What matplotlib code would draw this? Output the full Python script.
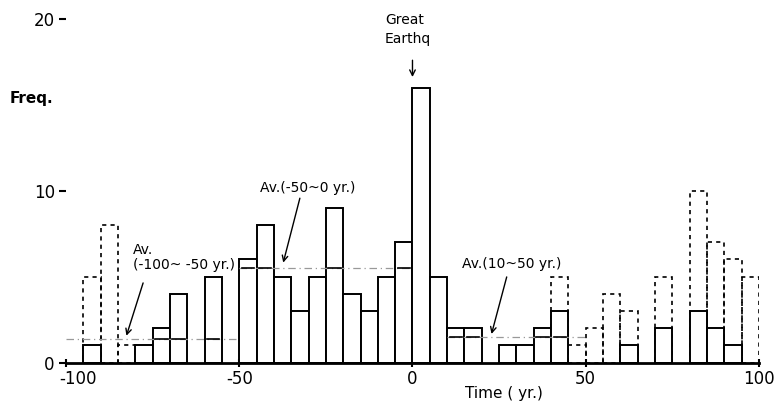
import numpy as np
import matplotlib
matplotlib.use("Agg")
import matplotlib.pyplot as plt
import matplotlib.transforms as mtransforms

plt.rcParams['axes.unicode_minus'] = False
plt.rcParams['font.family'] = 'DejaVu Sans'

# 5-year bins, left edges from -100 to 95
bin_left = np.arange(-100, 100, 5)
width = 5

# solid bars (counted events)
solid = [0, 1, 0, 0, 1, 2, 4, 0, 5, 0,
         6, 8, 5, 3, 5, 9, 4, 3, 5, 7,
         16, 5, 2, 2, 0, 1, 1, 2, 3, 0,
         0, 0, 1, 0, 2, 0, 3, 2, 1, 0]
# dashed bars (incl. less certain events)
dashed = [0, 5, 8, 1, 1, 2, 4, 0, 5, 0,
          6, 8, 5, 3, 5, 9, 4, 3, 5, 7,
          16, 5, 2, 2, 0, 1, 1, 2, 5, 1,
          2, 4, 3, 0, 5, 0, 10, 7, 6, 5]

# averages: (start, end, level)
avg_ranges = [(-100, -50, 1.35), (-50, 0, 5.5), (10, 50, 1.5)]

fig = plt.figure(figsize=(7.79, 4.07), dpi=100)
ax = fig.add_axes([0.0847, 0.109, 0.8896, 0.866])

solid = np.array(solid)
dashed = np.array(dashed)

# dashed outlines first
show = dashed > solid
ax.bar(bin_left[show], dashed[show], width=width, align='edge',
       fill=False, edgecolor='black', linewidth=1.2, linestyle=(0, (2.5, 2.5)), zorder=1)

# solid bars
has = solid > 0
ax.bar(bin_left[has], solid[has], width=width, align='edge',
       facecolor='white', edgecolor='black', linewidth=1.4, zorder=2)

# average lines
for a, b, lev in avg_ranges:
    ax.plot([a, b], [lev, lev], color='#999999', linewidth=0.9,
            linestyle=(0, (6, 3, 1, 3)), zorder=3)
    for left, h in zip(bin_left, solid):
        if a <= left < b and h > lev:
            c = left + width / 2
            ax.plot([c - 1.8, c + 1.8], [lev, lev], color='black', linewidth=1.2, zorder=4)

fs = 10
# annotations
ax.text(-80.7, 6.1, 'Av.\n(-100~ -50 yr.)', ha='left', va='center', fontsize=fs,
        linespacing=1.1)
ax.annotate('', xy=(-82.8, 1.41), xytext=(-77.5, 4.79),
            arrowprops=dict(arrowstyle='->', lw=1.0, color='black'))

ax.text(-44, 10.16, 'Av.(-50~0 yr.)', ha='left', va='center', fontsize=fs)
ax.annotate('', xy=(-37.5, 5.66), xytext=(-32.3, 9.72),
            arrowprops=dict(arrowstyle='->', lw=1.0, color='black'))

ax.text(14.2, 5.72, 'Av.(10~50 yr.)', ha='left', va='center', fontsize=fs)
ax.annotate('', xy=(22.6, 1.51), xytext=(27.4, 5.14),
            arrowprops=dict(arrowstyle='->', lw=1.0, color='black'))

ax.text(-7.9, 19.35, 'Great\nEarthq', ha='left', va='center', fontsize=fs,
        linespacing=1.45, clip_on=False)
ax.annotate('', xy=(0, 16.45), xytext=(0, 17.75),
            arrowprops=dict(arrowstyle='->', lw=1.0, color='black'))

ax.text(-116.2, 15.35, 'Freq.', ha='left', va='center', fontsize=11,
        fontweight='bold', clip_on=False)
ax.text(26.4, -1.8, 'Time ( yr.)', ha='center', va='center', fontsize=11,
        clip_on=False)

# axes styling
ax.set_xlim(-100, 100)
ax.set_ylim(0, 20.5)
ax.set_xticks([-100, -50, 0, 50, 100])
ax.set_yticks([0, 10, 20])
for s in ['top', 'right', 'left']:
    ax.spines[s].set_visible(False)
ax.spines['bottom'].set_linewidth(2)
ax.tick_params(axis='x', direction='inout', length=6, width=1.5, labelsize=12, pad=2)
ax.tick_params(axis='y', direction='out', length=5, width=1.5, labelsize=12, pad=3)

# nudge the first x label right, as in the original
first = ax.get_xticklabels()[0]
first.set_transform(first.get_transform() +
                    mtransforms.ScaledTranslation(12 / 100, 0, fig.dpi_scale_trans))

fig.savefig('out.png', dpi=100)
